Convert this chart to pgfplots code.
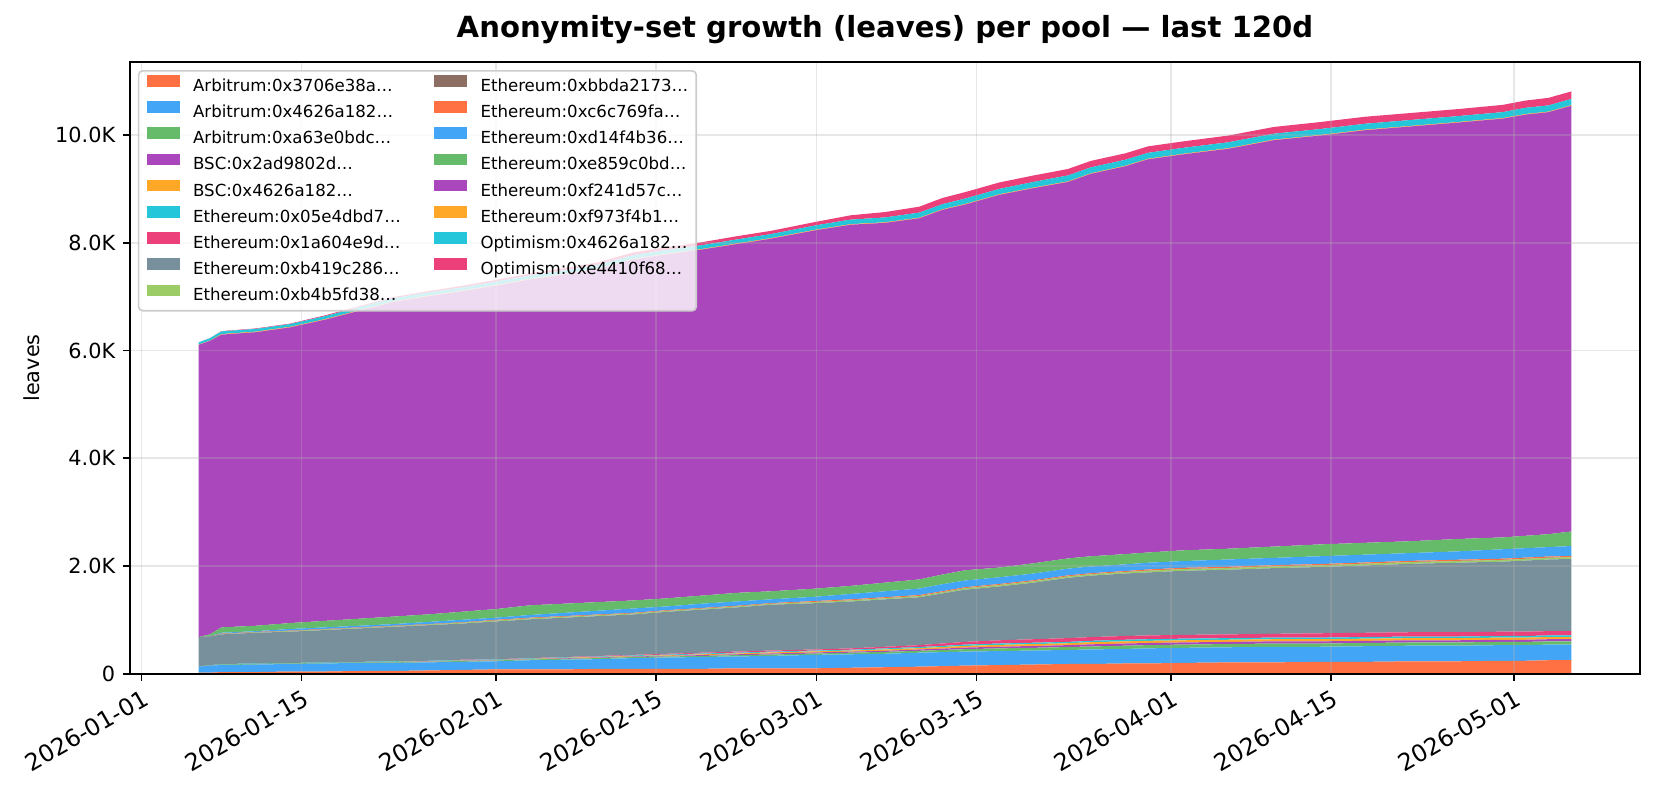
\documentclass[border=0pt]{standalone}
\usepackage{fontspec}
\setmainfont{DejaVu Sans}
\usepackage{pgfplots}
\usepackage{pgfplotstable}
\pgfplotsset{compat=1.18}

\definecolor{c1}{HTML}{FF7043}
\definecolor{c2}{HTML}{42A5F5}
\definecolor{c3}{HTML}{66BB6A}
\definecolor{c4}{HTML}{AB47BC}
\definecolor{c5}{HTML}{FFA726}
\definecolor{c6}{HTML}{26C6DA}
\definecolor{c7}{HTML}{EC407A}
\definecolor{c8}{HTML}{78909C}
\definecolor{c9}{HTML}{9CCC65}
\definecolor{c10}{HTML}{8D6E63}

% leaves added per pool, day = days since 2026-01-01
\pgfplotstableread{
d   a1  a2  a3 b1 b2 e1 e2 e3   e4 e5 e6 e7  e8  e9   e10 o1  o2
5   20  110 5  0  0  5  0  540  0  0  0  0   0   5425 5   40  0
6   20  130 5  0  0  5  0  530  0  5  0  5   30  5450 5   45  0
7   30  130 10 0  0  10 0  550  5  5  5  15  100 5435 10  50  5
10  30  140 10 0  0  10 0  570  5  5  5  15  100 5450 10  50  10
13  40  140 10 0  0  10 0  580  10 5  5  30  110 5490 10  50  10
16  40  150 10 0  0  10 0  600  10 5  5  30  120 5590 10  55  15
19  50  150 10 0  0  10 0  620  10 5  5  30  130 5715 10  55  20
22  50  150 10 5  5  10 0  640  10 5  5  30  140 5840 10  60  20
25  60  150 10 5  5  10 0  660  10 5  5  40  140 5905 10  60  25
28  70  150 15 5  5  10 5  670  15 5  5  45  150 5950 10  60  30
31  80  150 15 5  5  10 5  700  15 5  10 40  160 6005 10  65  30
34  80  170 15 5  5  10 5  720  15 5  10 50  180 6050 10  65  35
37  80  180 15 10 10 10 5  730  15 5  10 60  170 6115 10  65  40
40  90  180 20 10 10 10 10 740  15 5  10 70  160 6185 10  70  45
43  90  200 20 10 10 10 10 750  15 5  10 80  150 6330 10  70  50
46  90  210 20 10 10 15 15 780  15 5  10 70  150 6390 10  70  50
49  90  220 20 15 15 15 15 800  15 5  10 80  150 6425 10  70  55
52  100 220 25 15 15 15 20 820  15 5  10 80  160 6475 10  75  60
55  100 230 25 20 20 15 20 850  15 5  10 70  150 6545 10  75  60
59  100 250 25 20 20 15 20 860  20 5  15 80  150 6655 10  80  65
62  110 250 30 20 20 15 25 870  20 5  15 100 150 6705 10  85  80
65  120 250 35 20 25 20 30 880  20 5  15 110 160 6680 10  90  100
68  130 260 35 25 25 20 35 890  20 5  15 120 170 6705 10  95  110
70  140 260 40 25 30 20 45 930  20 5  15 130 180 6770 10  95  115
72  150 260 45 30 30 25 50 970  25 5  15 125 190 6790 10  100 120
75  160 260 50 30 35 25 60 1000 25 5  15 125 180 6920 10  100 120
78  170 260 50 35 35 25 65 1050 25 5  15 125 190 6965 10  105 120
81  180 260 55 35 35 25 70 1120 25 5  15 125 190 6990 10  110 120
83  180 270 55 40 40 25 70 1140 25 5  15 125 190 7100 10  110 120
86  190 270 60 40 40 30 70 1160 25 5  15 125 190 7200 10  110 120
88  190 280 60 40 40 30 70 1170 30 5  20 125 190 7300 10  110 120
91  200 280 60 40 40 30 70 1190 30 5  20 125 200 7350 10  110 120
95  210 280 60 40 40 30 70 1200 30 5  20 135 200 7425 10  110 125
99  210 290 60 40 40 30 70 1220 30 5  20 135 210 7545 10  110 125
103 220 280 60 40 40 30 80 1230 30 5  20 145 220 7590 10  110 130
107 220 290 60 40 40 30 80 1250 30 5  20 145 220 7660 10  110 130
111 230 290 60 40 40 30 80 1270 30 5  20 145 220 7700 10  110 130
115 230 290 60 40 40 30 80 1290 30 5  20 155 230 7730 10  110 130
119 240 290 60 40 40 30 80 1300 30 5  20 175 220 7775 10  110 135
121 240 290 60 40 40 30 80 1320 30 5  20 175 230 7820 10  115 135
123 250 290 60 40 40 30 80 1330 30 5  20 175 240 7835 10  115 140
125 250 290 60 40 40 30 80 1340 30 5  20 185 270 7905 10  115 140
}\pools

\begin{document}
\begin{tikzpicture}
\useasboundingbox (-65pt,-58.15pt) rectangle (763pt,336.85pt);
\begin{axis}[
    at={(0,0)}, anchor=south west,
    scale only axis,
    width=755pt, height=305.7pt,
    xmin=-1, xmax=131,
    ymin=0, ymax=11350.5,
    scaled y ticks=false,
    stack plots=y,
    axis on top,
    axis line style={black, line width=0.83pt},
    tick style={black, line width=0.83pt},
    tick align=outside, tick pos=left,
    major tick length=3.6pt,
    xtick={0,14,31,45,59,73,90,104,120},
    xticklabels={2026-01-01,2026-01-15,2026-02-01,2026-02-15,2026-03-01,2026-03-15,2026-04-01,2026-04-15,2026-05-01},
    ytick={0,2000,4000,6000,8000,10000},
    yticklabels={0,2.0K,4.0K,6.0K,8.0K,10.0K},
    xticklabel style={font=\fontsize{11.8}{13}\selectfont, rotate=30, anchor=north east, inner sep=0pt},
    yticklabel style={font=\fontsize{10.4}{12}\selectfont, inner sep=0pt},
    xticklabel shift=3.6pt, yticklabel shift=3.6pt,
    grid=major,
    grid style={color=black!31, opacity=0.3, line width=0.83pt},
    ylabel={leaves},
    ylabel style={font=\fontsize{10.4}{12}\selectfont, at={(axis description cs:-0.0652,0.5)}, anchor=center},
    title={Anonymity-set growth (leaves) per pool — last 120d},
    title style={font=\fontsize{14.56}{17}\selectfont\bfseries, at={(0.5,1)}, anchor=base, yshift=6.5pt},
    legend columns=2,
    legend cell align=left,
    legend image code/.code={\fill[#1, draw=none, fill opacity=1, sharp corners] (0pt,-0.25pt) rectangle (16.6pt,5.55pt);},
    legend style={
        at={(0,1)}, anchor=north west, xshift=3.9pt, yshift=-3.9pt,
        font=\fontsize{8.3}{10}\selectfont,
        draw=black!20, line width=0.83pt, rounded corners=2pt,
        fill=white, fill opacity=0.8, draw opacity=1, text opacity=1,
        inner xsep=4pt, inner ysep=1pt, row sep=0pt,
        nodes={inner sep=0pt, text height=9.2pt, text depth=3.9pt},
        /tikz/every odd column/.append style={column sep=6.64pt},
        /tikz/every even column/.append style={column sep=16.6pt},
    },
]
% legend, filled row by row so that it reads column by column
\addlegendimage{fill=c1}  \addlegendentry{Arbitrum:0x3706e38a…}
\addlegendimage{fill=c10} \addlegendentry{Ethereum:0xbbda2173…}
\addlegendimage{fill=c2}  \addlegendentry{Arbitrum:0x4626a182…}
\addlegendimage{fill=c1}  \addlegendentry{Ethereum:0xc6c769fa…}
\addlegendimage{fill=c3}  \addlegendentry{Arbitrum:0xa63e0bdc…}
\addlegendimage{fill=c2}  \addlegendentry{Ethereum:0xd14f4b36…}
\addlegendimage{fill=c4}  \addlegendentry{BSC:0x2ad9802d…}
\addlegendimage{fill=c3}  \addlegendentry{Ethereum:0xe859c0bd…}
\addlegendimage{fill=c5}  \addlegendentry{BSC:0x4626a182…}
\addlegendimage{fill=c4}  \addlegendentry{Ethereum:0xf241d57c…}
\addlegendimage{fill=c6}  \addlegendentry{Ethereum:0x05e4dbd7…}
\addlegendimage{fill=c5}  \addlegendentry{Ethereum:0xf973f4b1…}
\addlegendimage{fill=c7}  \addlegendentry{Ethereum:0x1a604e9d…}
\addlegendimage{fill=c6}  \addlegendentry{Optimism:0x4626a182…}
\addlegendimage{fill=c8}  \addlegendentry{Ethereum:0xb419c286…}
\addlegendimage{fill=c7}  \addlegendentry{Optimism:0xe4410f68…}
\addlegendimage{fill=c9}  \addlegendentry{Ethereum:0xb4b5fd38…}

\addplot[forget plot, draw=none, fill=c1]  table[x=d, y=a1]  {\pools} \closedcycle;
\addplot[forget plot, draw=none, fill=c2]  table[x=d, y=a2]  {\pools} \closedcycle;
\addplot[forget plot, draw=none, fill=c3]  table[x=d, y=a3]  {\pools} \closedcycle;
\addplot[forget plot, draw=none, fill=c4]  table[x=d, y=b1]  {\pools} \closedcycle;
\addplot[forget plot, draw=none, fill=c5]  table[x=d, y=b2]  {\pools} \closedcycle;
\addplot[forget plot, draw=none, fill=c6]  table[x=d, y=e1]  {\pools} \closedcycle;
\addplot[forget plot, draw=none, fill=c7]  table[x=d, y=e2]  {\pools} \closedcycle;
\addplot[forget plot, draw=none, fill=c8]  table[x=d, y=e3]  {\pools} \closedcycle;
\addplot[forget plot, draw=none, fill=c9]  table[x=d, y=e4]  {\pools} \closedcycle;
\addplot[forget plot, draw=none, fill=c10] table[x=d, y=e5]  {\pools} \closedcycle;
\addplot[forget plot, draw=none, fill=c1]  table[x=d, y=e6]  {\pools} \closedcycle;
\addplot[forget plot, draw=none, fill=c2]  table[x=d, y=e7]  {\pools} \closedcycle;
\addplot[forget plot, draw=none, fill=c3]  table[x=d, y=e8]  {\pools} \closedcycle;
\addplot[forget plot, draw=none, fill=c4]  table[x=d, y=e9]  {\pools} \closedcycle;
\addplot[forget plot, draw=none, fill=c5]  table[x=d, y=e10] {\pools} \closedcycle;
\addplot[forget plot, draw=none, fill=c6]  table[x=d, y=o1]  {\pools} \closedcycle;
\addplot[forget plot, draw=none, fill=c7]  table[x=d, y=o2]  {\pools} \closedcycle;
\end{axis}
\end{tikzpicture}
\end{document}
